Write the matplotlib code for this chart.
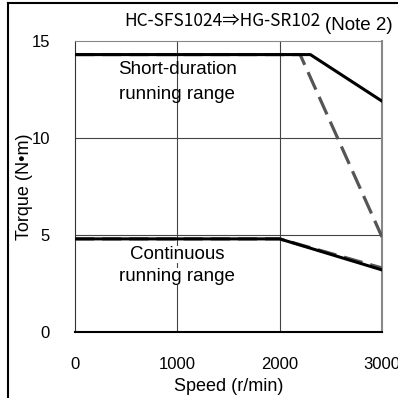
import matplotlib
matplotlib.use("Agg")
import matplotlib.pyplot as plt
from matplotlib.lines import Line2D

plt.rcParams['font.family'] = ['Liberation Sans', 'DejaVu Sans']

# short-duration range (new motor, solid) and old motor (dashed)
short_speed = [0, 2300, 3000]
short_torque = [14.3, 14.3, 11.9]
short_old_speed = [0, 2200, 3000]
short_old_torque = [14.3, 14.3, 4.9]

# continuous range
cont_speed = [0, 2000, 3000]
cont_torque = [4.8, 4.8, 3.2]
cont_old_speed = [0, 2000, 3000]
cont_old_torque = [4.8, 4.8, 3.3]

x_ticks = [0, 1000, 2000, 3000]
y_ticks = [0, 5, 10, 15]

fig = plt.figure(figsize=(3.98, 3.98), dpi=100)
ax = fig.add_axes([75/398, 66/398, 307/398, 291/398])

ax.set_xlim(0, 3000)
ax.set_ylim(0, 15)
ax.set_xticks(x_ticks)
ax.set_yticks(y_ticks)
ax.tick_params(length=0, labelsize=12)
ax.tick_params(axis='x', pad=18)
ax.tick_params(axis='y', pad=18)

for v in [1000, 2000]:
    ax.axvline(v, color='#444444', lw=0.8, zorder=1)
for v in [5, 10]:
    ax.axhline(v, color='#444444', lw=0.8, zorder=1)

ax.spines['left'].set_color('#333333')
ax.spines['bottom'].set_color('black')
ax.spines['bottom'].set_linewidth(1.5)
ax.spines['top'].set_color('#888888')
ax.spines['right'].set_color('#888888')
ax.spines['right'].set_linewidth(1.5)

ax.plot(short_old_speed, short_old_torque, color='#555555', lw=2.3,
        dashes=(6, 2.5), zorder=3)
ax.plot(cont_old_speed, cont_old_torque, color='#555555', lw=2.3,
        dashes=(6, 2.5), zorder=3)
ax.plot(short_speed, short_torque, color='black', lw=2.2, zorder=4)
ax.plot(cont_speed, cont_torque, color='black', lw=2.2, zorder=4)

ax.text(1000, 13.55, "Short-duration", ha='center', va='center', fontsize=13.5)
ax.text(1000, 12.25, "running range", ha='center', va='center', fontsize=13.5)
ax.text(1000, 4.0, "Continuous", ha='center', va='center', fontsize=13.5,
        bbox=dict(facecolor='white', edgecolor='none', pad=0), zorder=5)
ax.text(1000, 2.85, "running range", ha='center', va='center', fontsize=13.5,
        bbox=dict(facecolor='white', edgecolor='none', pad=0), zorder=5)

ax.set_xlabel("Speed (r/min)", fontsize=13, labelpad=4)
ax.set_ylabel("Torque (N•m)", fontsize=13, labelpad=-1)

fig.text(222/398, 1 - 21/398, "HC-SFS1024⇒HG-SR102", ha='center', va='center',
         fontsize=12.5, family=['Noto Sans CJK JP', 'DejaVu Sans'])
fig.text(359/398, 1 - 25/398, "(Note 2)", ha='center', va='center', fontsize=13.5)

# frame around the figure (left and top edges)
fig.add_artist(Line2D([8/398, 8/398], [0, 1 - 3/398], color='black', lw=1.5,
                      transform=fig.transFigure))
fig.add_artist(Line2D([8/398, 1], [1 - 3/398, 1 - 3/398], color='black', lw=1.5,
                      transform=fig.transFigure))

fig.savefig("out.png", dpi=100)
